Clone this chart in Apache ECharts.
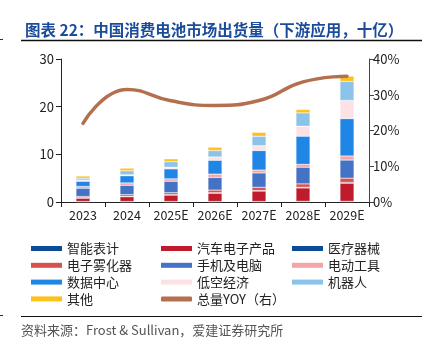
<!DOCTYPE html>
<html>
<head>
<meta charset="utf-8">
<script src="https://cdn.jsdelivr.net/npm/echarts@6/dist/echarts.min.js"></script>
<style>
  html, body { margin: 0; padding: 0; background: #fff; }
  #chart { width: 430px; height: 349px; }
</style>
</head>
<body>
<div id="chart"></div>
<script>
// China consumer battery shipments by downstream application (billion units)
const categories = ['2023', '2024', '2025E', '2026E', '2027E', '2028E', '2029E'];

const smartMeter   = [0.10, 0.10, 0.10, 0.10, 0.10, 0.15, 0.15];
const autoElec     = [0.70, 1.00, 1.35, 1.75, 2.20, 2.80, 3.80];
const medical      = [0.10, 0.10, 0.10, 0.10, 0.10, 0.15, 0.15];
const eCigarette   = [0.25, 0.35, 0.40, 0.55, 0.70, 0.70, 0.90];
const phonePc      = [1.75, 1.95, 2.40, 2.65, 3.00, 3.50, 3.80];
const powerTools   = [0.35, 0.50, 0.50, 0.70, 0.60, 0.60, 0.85];
const dataCenter   = [1.10, 1.50, 2.10, 2.90, 4.10, 5.90, 7.85];
const lowAltitude  = [0.25, 0.20, 0.35, 0.70, 1.00, 2.10, 3.80];
const robots       = [0.40, 0.85, 1.15, 1.35, 2.00, 2.80, 4.00];
const others       = [0.45, 0.55, 0.60, 0.70, 0.80, 0.70, 1.10];
const totalYoy     = [22.0, 31.5, 28.3, 27.0, 28.4, 33.6, 35.2];

const leftTicks  = { min: 0, max: 30, interval: 10 };
const rightTicks = { min: 0, max: 40, interval: 10 };

const barSeries = [
  ['智能表计', smartMeter, '#0B4B97'],
  ['汽车电子产品', autoElec, '#BF1B2C'],
  ['医疗器械', medical, '#0B4B97'],
  ['电子雾化器', eCigarette, '#D6514F'],
  ['手机及电脑', phonePc, '#4472C4'],
  ['电动工具', powerTools, '#F3A5A8'],
  ['数据中心', dataCenter, '#1F86E6'],
  ['低空经济', lowAltitude, '#FCE2E5'],
  ['机器人', robots, '#8CC3EA'],
  ['其他', others, '#FDC11A']
];
const lineName = '总量YOY（右）';
const lineColor = '#B46F4E';

const font = '"Noto Sans CJK SC", "Noto Sans", sans-serif';

const series = barSeries.map(([name, data, color]) => ({
  name, type: 'bar', stack: 'total', data,
  barWidth: 14,
  itemStyle: { color, borderColor: 'rgba(255,255,255,0.8)', borderWidth: 0.4 },
  emphasis: { disabled: true }
}));
series.push({
  name: lineName, type: 'line', yAxisIndex: 1, data: totalYoy,
  smooth: true, symbol: 'none',
  lineStyle: { color: lineColor, width: 3.5, cap: 'round' },
  itemStyle: { color: lineColor },
  z: 5
});

const colorOf = Object.fromEntries(barSeries.map(([n, , c]) => [n, c]));
const rectItem = (name) => ({ name, icon: 'rect', itemStyle: { color: colorOf[name], borderWidth: 0 } });

const legendBase = {
  orient: 'vertical', top: 237,
  itemWidth: 31, itemHeight: 5, itemGap: 3.8,
  selectedMode: false,
  itemStyle: { borderWidth: 0 },
  textStyle: { fontFamily: font, fontSize: 13, color: '#222' }
};

const chart = echarts.init(document.getElementById('chart'), null, { renderer: 'canvas' });
chart.setOption({
  animation: false,
  backgroundColor: '#fff',
  textStyle: { fontFamily: font },
  title: {
    text: '图表 22：中国消费电池市场出货量（下游应用，十亿）',
    left: 20, top: 17,
    textStyle: { fontFamily: font, fontSize: 15.5, fontWeight: 'bold', color: '#1B4C9C' }
  },
  grid: { left: 61, right: 61, top: 59, bottom: 147 },
  legend: [
    Object.assign({}, legendBase, { left: 26, data: ['智能表计', '电子雾化器', '数据中心', '其他'].map(rectItem) }),
    Object.assign({}, legendBase, { left: 156, data: ['汽车电子产品', '手机及电脑', '低空经济'].map(rectItem).concat([
      { name: lineName, icon: 'roundRect', itemStyle: { color: lineColor, borderWidth: 0 } }]) }),
    Object.assign({}, legendBase, { left: 287, data: ['医疗器械', '电动工具', '机器人'].map(rectItem) })
  ],
  xAxis: {
    type: 'category', data: categories,
    axisLine: { lineStyle: { color: '#222', width: 1 } },
    axisTick: { show: true, alignWithLabel: false, length: 5, lineStyle: { color: '#222' } },
    axisLabel: { interval: 0, hideOverlap: false, fontFamily: font, fontSize: 12.5, color: '#222', margin: 7 }
  },
  yAxis: [
    {
      type: 'value', min: leftTicks.min, max: leftTicks.max, interval: leftTicks.interval,
      axisLine: { show: true, lineStyle: { color: '#222' } },
      axisTick: { show: true, length: 5, lineStyle: { color: '#222' } },
      splitLine: { show: false },
      axisLabel: { fontFamily: font, fontSize: 13, color: '#222', margin: 7 }
    },
    {
      type: 'value', min: rightTicks.min, max: rightTicks.max, interval: rightTicks.interval,
      position: 'right',
      axisLine: { show: true, lineStyle: { color: '#444' } },
      axisTick: { show: true, length: 5, lineStyle: { color: '#444' } },
      splitLine: { show: false },
      axisLabel: { fontFamily: font, fontSize: 13, color: '#222', margin: 4, formatter: '{value}%' }
    }
  ],
  graphic: [
    { type: 'line', shape: { x1: 21, y1: 40.5, x2: 422, y2: 40.5 }, style: { stroke: '#111', lineWidth: 1.5 } },
    { type: 'line', shape: { x1: 0, y1: 39.5, x2: 3, y2: 39.5 }, style: { stroke: '#333', lineWidth: 1 } },
    { type: 'line', shape: { x1: 21, y1: 316.5, x2: 422, y2: 316.5 }, style: { stroke: '#111', lineWidth: 1 } },
    { type: 'line', shape: { x1: 0, y1: 315.5, x2: 3, y2: 315.5 }, style: { stroke: '#333', lineWidth: 1 } },
    {
      type: 'text', left: 21, top: 324,
      style: { text: '资料来源：Frost & Sullivan，爱建证券研究所', font: '13px ' + font, fill: '#555' }
    }
  ],
  series
});
</script>
</body>
</html>
